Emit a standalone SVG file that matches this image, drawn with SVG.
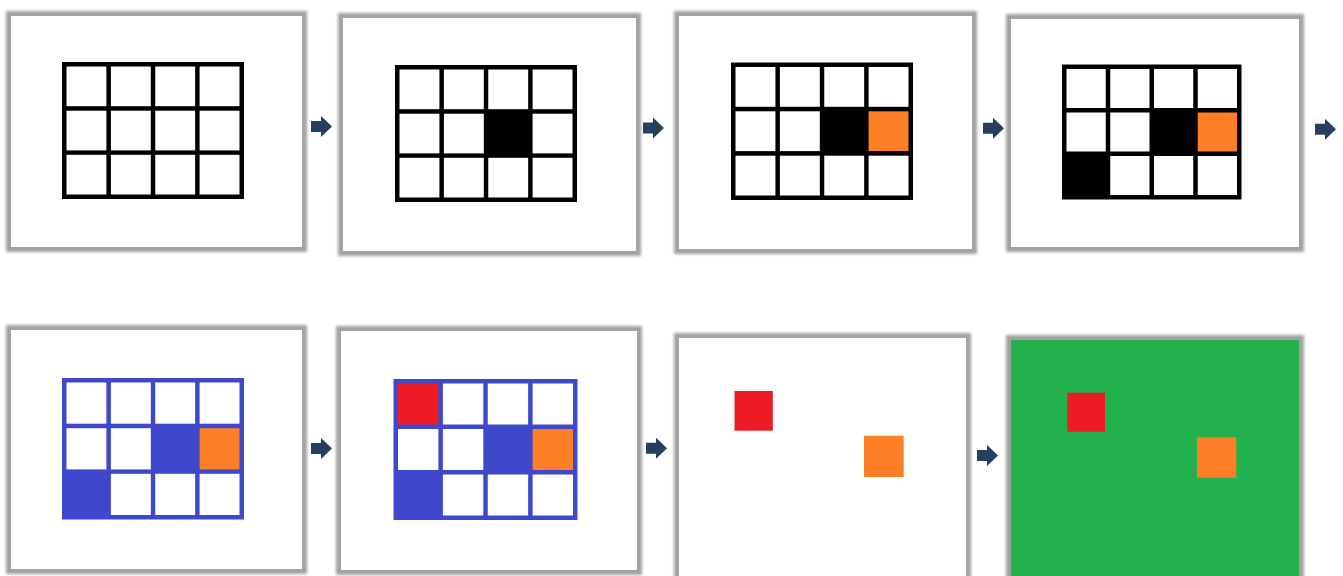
<svg xmlns="http://www.w3.org/2000/svg" xmlns:xlink="http://www.w3.org/1999/xlink" width="1343" height="576" viewBox="0 0 1343 576">
<style>
.sh{fill:#a0a0a0;stroke:#a0a0a0;stroke-width:4;filter:url(#blur)}
.bd{fill:none;stroke:#a3a3a3;stroke-width:3}
.pw{fill:#ffffff}
.pg{fill:#22B14C}
.k{fill:#000000}
.b{fill:#3F48CC}
.w{fill:#ffffff}
.o{fill:#FF7F27}
.r{fill:#ED1C24}
.arr{fill:#243F60}
</style>
<defs>
<filter id="blur" x="-10%" y="-10%" width="120%" height="120%"><feGaussianBlur stdDeviation="1.8"/></filter>
<path id="arrow" d="M0,-5.5 H10 V-10.5 L21,0 L10,10.5 V5.5 H0 Z"/>
</defs>
<rect width="1343" height="576" fill="#ffffff"/>

<g id="panel1">
<rect class="sh" x="8" y="13" width="297" height="237"/>
<rect class="bd" x="9.5" y="14.5" width="294" height="234"/>
<rect class="pw" x="11" y="16" width="291" height="231"/>
<rect class="k" x="62" y="62" width="182" height="137"/>
<g class="w">
<rect x="66.5" y="66.5" width="39.9" height="39.7"/><rect x="110.9" y="66.5" width="39.9" height="39.7"/><rect x="155.25" y="66.5" width="39.9" height="39.7"/><rect x="199.6" y="66.5" width="39.9" height="39.7"/>
<rect x="66.5" y="110.7" width="39.9" height="39.7"/><rect x="110.9" y="110.7" width="39.9" height="39.7"/><rect x="155.25" y="110.7" width="39.9" height="39.7"/><rect x="199.6" y="110.7" width="39.9" height="39.7"/>
<rect x="66.5" y="154.8" width="39.9" height="39.7"/><rect x="110.9" y="154.8" width="39.9" height="39.7"/><rect x="155.25" y="154.8" width="39.9" height="39.7"/><rect x="199.6" y="154.8" width="39.9" height="39.7"/>
</g>
</g>

<g id="panel2">
<rect class="sh" x="340" y="15" width="299" height="239"/>
<rect class="bd" x="341.5" y="16.5" width="296" height="236"/>
<rect class="pw" x="343" y="18" width="293" height="233"/>
<rect class="k" x="395" y="65" width="182" height="137"/>
<g class="w">
<rect x="399.5" y="69.5" width="39.9" height="39.7"/><rect x="443.9" y="69.5" width="39.9" height="39.7"/><rect x="488.25" y="69.5" width="39.9" height="39.7"/><rect x="532.6" y="69.5" width="39.9" height="39.7"/>
<rect x="399.5" y="113.7" width="39.9" height="39.7"/><rect x="443.9" y="113.7" width="39.9" height="39.7"/><rect x="532.6" y="113.7" width="39.9" height="39.7"/>
<rect x="399.5" y="157.8" width="39.9" height="39.7"/><rect x="443.9" y="157.8" width="39.9" height="39.7"/><rect x="488.25" y="157.8" width="39.9" height="39.7"/><rect x="532.6" y="157.8" width="39.9" height="39.7"/>
</g>
</g>

<g id="panel3">
<rect class="sh" x="676" y="13" width="299" height="239"/>
<rect class="bd" x="677.5" y="14.5" width="296" height="236"/>
<rect class="pw" x="679" y="16" width="293" height="233"/>
<rect class="k" x="731" y="62.5" width="182" height="137.5"/>
<g class="w">
<rect x="735.5" y="67" width="39.9" height="39.8"/><rect x="779.9" y="67" width="39.9" height="39.8"/><rect x="824.25" y="67" width="39.9" height="39.8"/><rect x="868.6" y="67" width="39.9" height="39.8"/>
<rect x="735.5" y="111.3" width="39.9" height="39.8"/><rect x="779.9" y="111.3" width="39.9" height="39.8"/>
<rect x="735.5" y="155.7" width="39.9" height="39.8"/><rect x="779.9" y="155.7" width="39.9" height="39.8"/><rect x="824.25" y="155.7" width="39.9" height="39.8"/><rect x="868.6" y="155.7" width="39.9" height="39.8"/>
</g>
<rect class="o" x="868.6" y="111.3" width="39.9" height="39.8"/>
</g>

<g id="panel4">
<rect class="sh" x="1008" y="16" width="294" height="234"/>
<rect class="bd" x="1009.5" y="17.5" width="291" height="231"/>
<rect class="pw" x="1011" y="19" width="288" height="228"/>
<rect class="k" x="1062" y="64.5" width="179.5" height="135"/>
<g class="w">
<rect x="1066.5" y="69" width="39.25" height="39"/><rect x="1110.25" y="69" width="39.25" height="39"/><rect x="1154" y="69" width="39.25" height="39"/><rect x="1197.75" y="69" width="39.25" height="39"/>
<rect x="1066.5" y="112.5" width="39.25" height="39"/><rect x="1110.25" y="112.5" width="39.25" height="39"/>
<rect x="1110.25" y="156" width="39.25" height="39"/><rect x="1154" y="156" width="39.25" height="39"/><rect x="1197.75" y="156" width="39.25" height="39"/>
</g>
<rect class="o" x="1197.75" y="112.5" width="39.25" height="39"/>
</g>

<g id="panel5">
<rect class="sh" x="8" y="327" width="297" height="245"/>
<rect class="bd" x="9.5" y="328.5" width="294" height="242"/>
<rect class="pw" x="11" y="330" width="291" height="239"/>
<rect class="b" x="62" y="378" width="182" height="141.5"/>
<g class="w">
<rect x="66.5" y="382.5" width="39.9" height="41.2"/><rect x="110.9" y="382.5" width="39.9" height="41.2"/><rect x="155.25" y="382.5" width="39.9" height="41.2"/><rect x="199.6" y="382.5" width="39.9" height="41.2"/>
<rect x="66.5" y="428.2" width="39.9" height="41.2"/><rect x="110.9" y="428.2" width="39.9" height="41.2"/>
<rect x="110.9" y="473.8" width="39.9" height="41.2"/><rect x="155.25" y="473.8" width="39.9" height="41.2"/><rect x="199.6" y="473.8" width="39.9" height="41.2"/>
</g>
<rect class="o" x="199.6" y="428.2" width="39.9" height="41.2"/>
</g>

<g id="panel6">
<rect class="sh" x="338" y="328" width="302" height="245"/>
<rect class="bd" x="339.5" y="329.5" width="299" height="242"/>
<rect class="pw" x="341" y="331" width="296" height="239"/>
<rect class="b" x="393.5" y="379" width="184" height="141"/>
<g class="w">
<rect x="442.9" y="383.5" width="40.4" height="41"/><rect x="487.75" y="383.5" width="40.4" height="41"/><rect x="532.6" y="383.5" width="40.4" height="41"/>
<rect x="398" y="429" width="40.4" height="41"/><rect x="442.9" y="429" width="40.4" height="41"/>
<rect x="442.9" y="474.5" width="40.4" height="41"/><rect x="487.75" y="474.5" width="40.4" height="41"/><rect x="532.6" y="474.5" width="40.4" height="41"/>
</g>
<rect class="r" x="398" y="383.5" width="40.4" height="41"/>
<rect class="o" x="532.6" y="429" width="40.4" height="41"/>
</g>

<g id="panel7">
<rect class="sh" x="676" y="335" width="293" height="250"/>
<rect class="bd" x="677.5" y="336.5" width="290" height="247"/>
<rect class="pw" x="679" y="338" width="287" height="245"/>
<rect class="r" x="734.5" y="391" width="38.3" height="39.7"/>
<rect class="o" x="864" y="435.7" width="39.7" height="41.3"/>
</g>

<g id="panel8">
<rect class="sh" x="1008" y="337" width="294" height="248"/>
<rect class="bd" x="1009.5" y="338.5" width="291" height="245"/>
<rect class="pg" x="1011" y="340" width="288" height="243"/>
<rect class="r" x="1067.3" y="392.7" width="37.7" height="39"/>
<rect class="o" x="1197" y="437.3" width="39.3" height="40.4"/>
</g>

<g id="connectors" class="arr">
<use xlink:href="#arrow" transform="translate(311,126.5)"/>
<use xlink:href="#arrow" transform="translate(643,128)"/>
<use xlink:href="#arrow" transform="translate(983,128.3)"/>
<use xlink:href="#arrow" transform="translate(1315,129.3)"/>
<use xlink:href="#arrow" transform="translate(311,448.5)"/>
<use xlink:href="#arrow" transform="translate(646,448.3)"/>
<use xlink:href="#arrow" transform="translate(977,455.5)"/>
</g>
</svg>
